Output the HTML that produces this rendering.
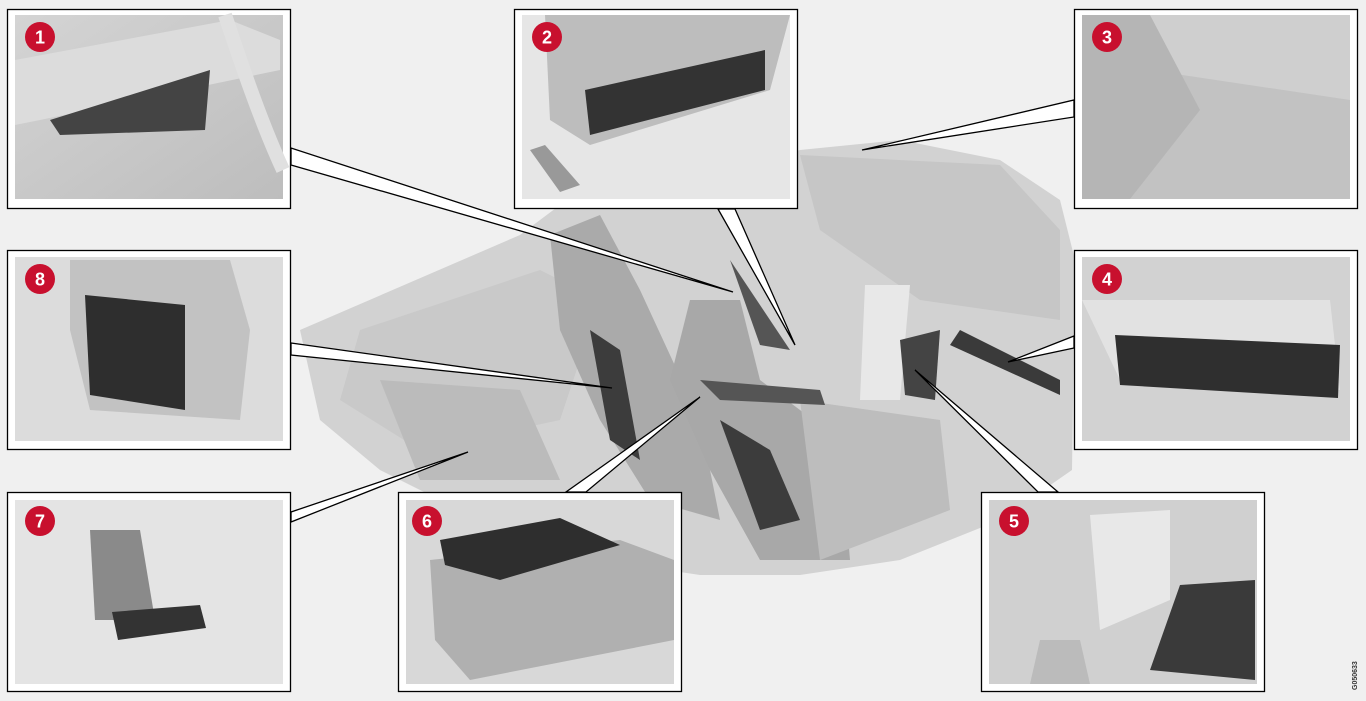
<!DOCTYPE html>
<html><head><meta charset="utf-8"><style>
html,body{margin:0;padding:0;background:#f0f0f0;}
svg{display:block;}
text{font-family:"Liberation Sans",sans-serif;font-weight:bold;}
</style></head><body>
<svg width="1366" height="701" viewBox="0 0 1366 701" xmlns="http://www.w3.org/2000/svg">
<rect width="1366" height="701" fill="#f0f0f0"/>
<defs>
<linearGradient id="g1" x1="0" y1="0" x2="1" y2="1"><stop offset="0" stop-color="#d4d4d4"/><stop offset="1" stop-color="#bdbdbd"/></linearGradient>
</defs>
<!-- central car illustration -->
<g>
<path d="M300,330 L520,235 L560,205 L800,150 L900,140 L1000,160 L1060,200 L1075,260 L1072,470 L1000,520 L900,560 L800,575 L700,575 L600,560 L480,520 L380,470 L320,420 Z" fill="#d2d2d2"/>
<path d="M800,155 L1000,165 L1060,230 L1060,320 L920,300 L820,230 Z" fill="#c6c6c6"/>
<path d="M360,330 L540,270 L600,300 L560,420 L420,450 L340,400 Z" fill="#c9c9c9"/>
<path d="M550,235 L600,215 L640,290 L700,420 L720,520 L650,500 L600,420 L560,330 Z" fill="#aaaaaa"/>
<path d="M690,300 L740,300 L760,380 L840,440 L850,560 L760,560 L710,470 L670,380 Z" fill="#a8a8a8"/>
<path d="M720,420 L770,450 L800,520 L760,530 Z" fill="#3c3c3c"/>
<path d="M590,330 L620,350 L640,460 L610,440 Z" fill="#3c3c3c"/>
<path d="M800,400 L940,420 L950,510 L820,560 Z" fill="#bdbdbd"/>
<path d="M380,380 L520,390 L560,480 L420,480 Z" fill="#bbbbbb"/>
<path d="M865,285 L910,285 L900,400 L860,400 Z" fill="#e8e8e8"/>
<path d="M900,340 L940,330 L935,400 L905,395 Z" fill="#444"/>
<path d="M730,260 L770,320 L790,350 L760,345 Z" fill="#555"/>
<path d="M960,330 L1060,380 L1060,395 L950,345 Z" fill="#3a3a3a"/>
<path d="M700,380 L820,390 L825,405 L720,400 Z" fill="#555"/>
</g>
<!-- connectors (wedges) -->
<g fill="#fff" stroke="#000" stroke-width="1.3" stroke-linejoin="miter">
<polygon points="291,148 291,165 733,292"/>
<polygon points="718,209 735,209 795,345"/>
<polygon points="1074,100 1074,117 862,150"/>
<polygon points="1074,336 1074,348 1008,362"/>
<polygon points="1038,492 1058,492 915,370"/>
<polygon points="566,492 586,492 700,397"/>
<polygon points="291,512 291,522 468,452"/>
<polygon points="291,343 291,355 612,388"/>
</g>
<!-- boxes -->
<g>
<rect x="7.5" y="9.5" width="283" height="199" fill="#fff" stroke="#000" stroke-width="1.3"/>
<rect x="15" y="15" width="268" height="184" fill="url(#g1)"/>
<path d="M15,60 L230,20 L280,40 L280,70 L40,120 L15,125 Z" fill="#dcdcdc"/>
<path d="M50,120 L210,70 L205,130 L60,135 Z" fill="#444"/>
<path d="M225,15 C240,60 260,120 283,170" stroke="#e0e0e0" stroke-width="14" fill="none"/>

<rect x="514.5" y="9.5" width="283" height="199" fill="#fff" stroke="#000" stroke-width="1.3"/>
<rect x="522" y="15" width="268" height="184" fill="#e6e6e6"/>
<path d="M545,15 L790,15 L770,90 L590,145 L550,120 Z" fill="#bdbdbd"/>
<path d="M585,90 L765,50 L765,90 L590,135 Z" fill="#333"/>
<path d="M545,145 L580,185 L560,192 L530,150 Z" fill="#999"/>

<rect x="1074.5" y="9.5" width="283" height="199" fill="#fff" stroke="#000" stroke-width="1.3"/>
<rect x="1082" y="15" width="268" height="184" fill="#cfcfcf"/>
<path d="M1082,60 L1350,100 L1350,199 L1082,199 Z" fill="#c2c2c2"/>
<path d="M1082,15 L1150,15 L1200,110 L1130,199 L1082,199 Z" fill="#b5b5b5"/>

<rect x="7.5" y="250.5" width="283" height="199" fill="#fff" stroke="#000" stroke-width="1.3"/>
<rect x="15" y="257" width="268" height="184" fill="#dcdcdc"/>
<path d="M70,260 L230,260 L250,330 L240,420 L90,410 L70,330 Z" fill="#c2c2c2"/>
<path d="M85,295 L185,305 L185,410 L90,395 Z" fill="#2e2e2e"/>

<rect x="1074.5" y="250.5" width="283" height="199" fill="#fff" stroke="#000" stroke-width="1.3"/>
<rect x="1082" y="257" width="268" height="184" fill="#d2d2d2"/>
<path d="M1082,300 L1330,300 L1340,390 L1120,380 Z" fill="#e2e2e2"/>
<path d="M1115,335 L1340,345 L1338,398 L1120,385 Z" fill="#2f2f2f"/>

<rect x="7.5" y="492.5" width="283" height="199" fill="#fff" stroke="#000" stroke-width="1.3"/>
<rect x="15" y="500" width="268" height="184" fill="#e4e4e4"/>
<path d="M90,530 L140,530 L155,620 L95,620 Z" fill="#8a8a8a"/>
<path d="M112,612 L200,605 L206,628 L118,640 Z" fill="#333"/>

<rect x="398.5" y="492.5" width="283" height="199" fill="#fff" stroke="#000" stroke-width="1.3"/>
<rect x="406" y="500" width="268" height="184" fill="#d8d8d8"/>
<path d="M430,560 L620,540 L674,560 L674,640 L470,680 L435,640 Z" fill="#b0b0b0"/>
<path d="M440,540 L560,518 L620,545 L500,580 L445,565 Z" fill="#2e2e2e"/>

<rect x="981.5" y="492.5" width="283" height="199" fill="#fff" stroke="#000" stroke-width="1.3"/>
<rect x="989" y="500" width="268" height="184" fill="#d0d0d0"/>
<path d="M1090,515 L1170,510 L1170,600 L1100,630 Z" fill="#e8e8e8"/>
<path d="M1180,585 L1255,580 L1255,680 L1150,670 Z" fill="#3a3a3a"/>
<path d="M1040,640 L1080,640 L1090,684 L1030,684 Z" fill="#bbb"/>
</g>
<!-- number badges -->
<g fill="#c8102e">
<circle cx="40" cy="37" r="15"/><circle cx="547" cy="37" r="15"/><circle cx="1107" cy="37" r="15"/>
<circle cx="40" cy="279" r="15"/><circle cx="1107" cy="279" r="15"/><circle cx="40" cy="521" r="15"/>
<circle cx="427" cy="521" r="15"/><circle cx="1014" cy="521" r="15"/>
</g>
<g fill="#fff" font-size="18" text-anchor="middle">
<text x="40" y="43.5">1</text><text x="547" y="43.5">2</text><text x="1107" y="43.5">3</text>
<text x="40" y="285.5">8</text><text x="1107" y="285.5">4</text><text x="40" y="527.5">7</text>
<text x="427" y="527.5">6</text><text x="1014" y="527.5">5</text>
</g>
<text x="1357" y="690" font-size="7" font-weight="normal" fill="#333" transform="rotate(-90 1357 690)">G050633</text>
</svg>
</body></html>
